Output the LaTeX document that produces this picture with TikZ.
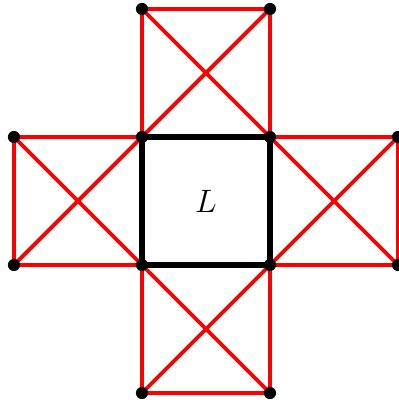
\documentclass[tikz,border=0pt]{standalone}
\usepackage{tikz}
\usetikzlibrary{positioning}
\definecolor{edgered}{RGB}{255, 0, 0}

\begin{document}
\begin{tikzpicture}[x=2cm, y=2cm,
    redline/.style={draw=edgered, line width=1.7pt},
    boxline/.style={draw=black, line width=2.3pt},
    dot/.style={circle, fill=black, inner sep=0pt, minimum size=5.4pt}
]
\useasboundingbox (-1.109,-1.078) rectangle (2.0,2.070);
% central square corners
\coordinate (sw) at (0,0);
\coordinate (se) at (1,0);
\coordinate (ne) at (1,1);
\coordinate (nw) at (0,1);
% outer corners
\coordinate (tl) at (0,2);
\coordinate (tr) at (1,2);
\coordinate (lt) at (-1,1);
\coordinate (lb) at (-1,0);
\coordinate (rt) at (2,1);
\coordinate (rb) at (2,0);
\coordinate (bl) at (0,-1);
\coordinate (br) at (1,-1);

% the four red squares with their diagonals
\foreach \a/\b/\c/\d in {nw/ne/tr/tl, lb/sw/nw/lt, se/rb/rt/ne, bl/br/se/sw}{
    \draw[redline] (\a) -- (\b) -- (\c) -- (\d) -- cycle;
    \draw[redline] (\a) -- (\c);
    \draw[redline] (\b) -- (\d);
}

\draw[boxline] (sw) -- (se) -- (ne) -- (nw) -- cycle;
\node[font=\Large] (label) at (0.5,0.5) {$L$};

\foreach \p in {sw,se,ne,nw,tl,tr,lt,lb,rt,rb,bl,br}
    \node[dot] (dot-\p) at (\p) {};
\end{tikzpicture}
\end{document}
